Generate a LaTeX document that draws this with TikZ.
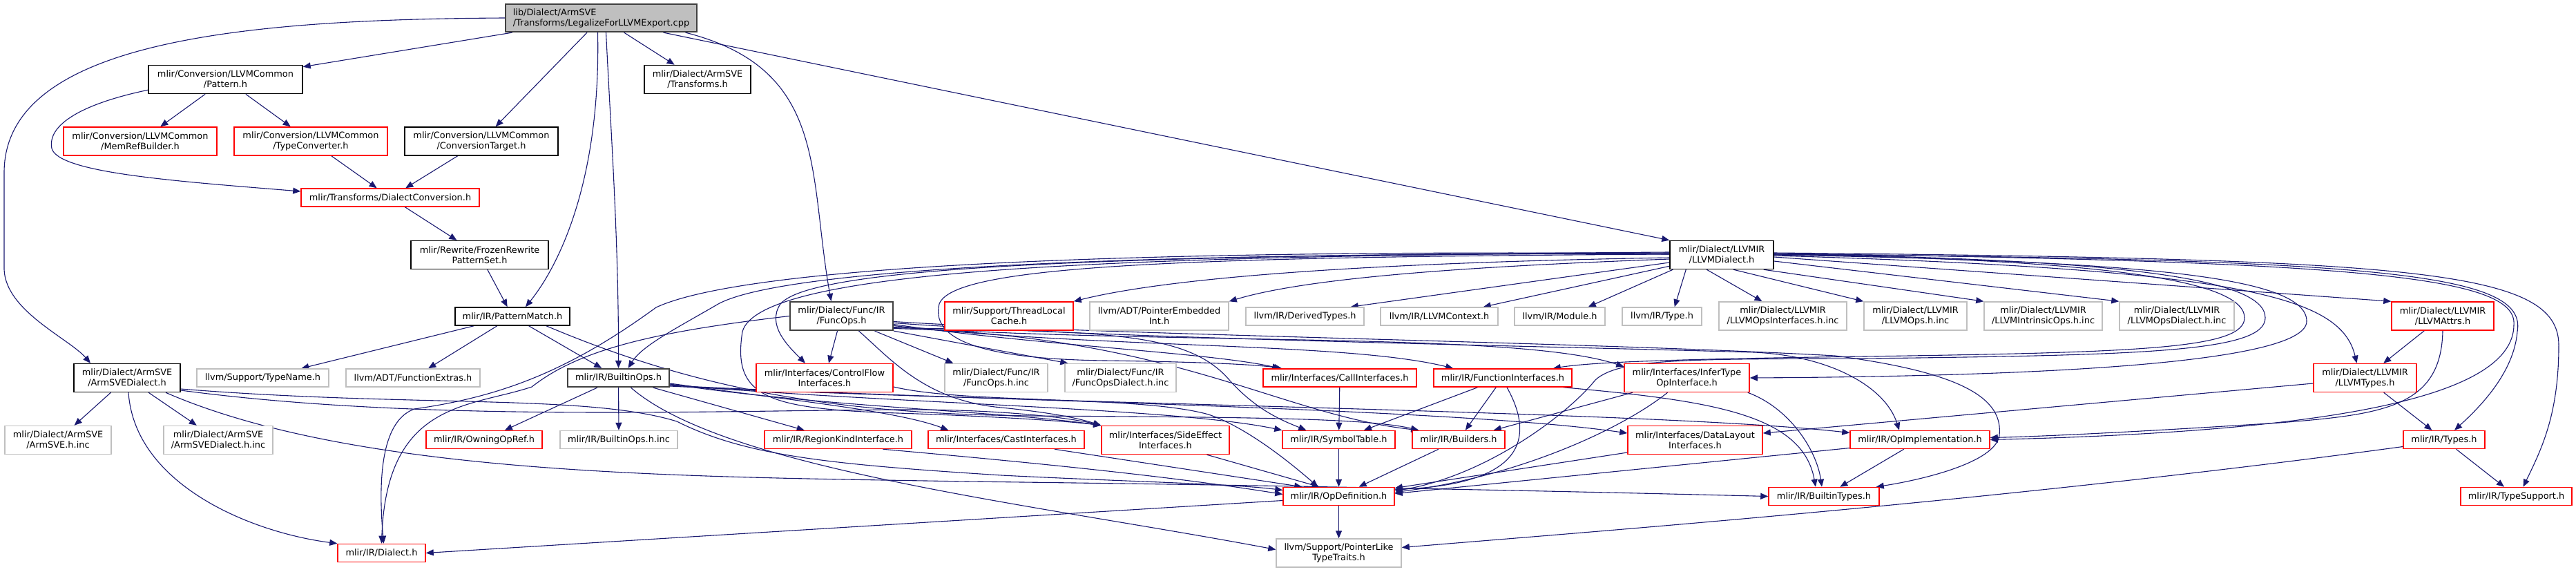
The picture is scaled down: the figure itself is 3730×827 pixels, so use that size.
\documentclass[tikz,border=0pt]{standalone}
\usepackage{fontspec}
\setmainfont{DejaVu Sans}
\usetikzlibrary{calc,arrows.meta,backgrounds}
\definecolor{edgeblue}{RGB}{25,25,112}
\definecolor{boxgray}{RGB}{191,191,191}
\definecolor{rootgray}{RGB}{191,191,191}
\definecolor{borddark}{RGB}{64,64,64}

\begin{document}
\begin{tikzpicture}[x=1pt, y=-1pt,
    hfile/.style={draw=black, fill=white, line width=1.5pt, inner sep=0pt, align=center, font=\fontsize{12.9}{15}\selectfont},
    hred/.style={hfile, draw=red},
    hgray/.style={hfile, draw=boxgray},
    hdark/.style={hfile, draw=borddark, line width=2.2pt},
    hroot/.style={hfile, draw=borddark, fill=rootgray, align=left, line width=2.2pt},
    one/.style={minimum height=26},
    two/.style={minimum height=41},
    dep/.style={draw=edgeblue, line width=1.1pt, -{Triangle[length=11pt,width=9pt]}}]
  \useasboundingbox (0,0) rectangle (3730,827);

  \node (root) at (870.5,26) [hroot, minimum height=40, minimum width=277] {lib/Dialect/ArmSVE\\/Transforms/LegalizeForLLVMExport.cpp};

  \node (pattern) at (326.5,115) [hfile, two, minimum width=223] {mlir/Conversion/LLVMCommon\\/Pattern.h};
  \node (svetrans) at (1010,115) [hfile, two, minimum width=154] {mlir/Dialect/ArmSVE\\/Transforms.h};
  \node (memref) at (203,204.5) [hred, two, minimum width=222] {mlir/Conversion/LLVMCommon\\/MemRefBuilder.h};
  \node (typeconv) at (450,204.5) [hred, two, minimum width=222] {mlir/Conversion/LLVMCommon\\/TypeConverter.h};
  \node (convtarget) at (697,204.5) [hfile, two, minimum width=222] {mlir/Conversion/LLVMCommon\\/ConversionTarget.h};
  \node (dialconv) at (565,286) [hred, one, minimum width=258] {mlir/Transforms/DialectConversion.h};
  \node (frozen) at (694.5,369) [hfile, two, minimum width=199] {mlir/Rewrite/FrozenRewrite\\PatternSet.h};
  \node (llvmd) at (2493,369) [hfile, two, minimum width=150] {mlir/Dialect/LLVMIR\\/LLVMDialect.h};

  \node (patmatch) at (742,458) [hfile, one, minimum width=166] {mlir/IR/PatternMatch.h};
  \node (funcops) at (1218.5,457.5) [hdark, two, minimum width=149] {mlir/Dialect/Func/IR\\/FuncOps.h};
  \node (tlcache) at (1461,457.5) [hred, two, minimum width=186] {mlir/Support/ThreadLocal\\Cache.h};
  \node (ptremb) at (1678.5,457.5) [hgray, two, minimum width=201] {llvm/ADT/PointerEmbedded\\Int.h};
  \node (derived) at (1889.5,458) [hgray, one, minimum width=171] {llvm/IR/DerivedTypes.h};
  \node (llvmctx) at (2084,458) [hgray, one, minimum width=170] {llvm/IR/LLVMContext.h};
  \node (module) at (2258.5,458) [hgray, one, minimum width=131] {llvm/IR/Module.h};
  \node (irtype) at (2406.5,458) [hgray, one, minimum width=115] {llvm/IR/Type.h};
  \node (opsif) at (2581.5,457.5) [hgray, two, minimum width=185] {mlir/Dialect/LLVMIR\\/LLVMOpsInterfaces.h.inc};
  \node (llvmops) at (2773.5,457.5) [hgray, two, minimum width=149] {mlir/Dialect/LLVMIR\\/LLVMOps.h.inc};
  \node (intrinsic) at (2958.5,457.5) [hgray, two, minimum width=171] {mlir/Dialect/LLVMIR\\/LLVMIntrinsicOps.h.inc};
  \node (opsdialect) at (3152,457.5) [hgray, two, minimum width=166] {mlir/Dialect/LLVMIR\\/LLVMOpsDialect.h.inc};
  \node (attrs) at (3537,457.5) [hred, two, minimum width=148] {mlir/Dialect/LLVMIR\\/LLVMAttrs.h};

  \node (armsve) at (184,547) [hfile, two, minimum width=154] {mlir/Dialect/ArmSVE\\/ArmSVEDialect.h};
  \node (typename) at (380.5,547) [hgray, one, minimum width=191] {llvm/Support/TypeName.h};
  \node (funcextras) at (598,547) [hgray, one, minimum width=194] {llvm/ADT/FunctionExtras.h};
  \node (builtinops) at (895.5,547) [hdark, one, minimum width=147] {mlir/IR/BuiltinOps.h};
  \node (ctrlflow) at (1194,547) [hred, two, minimum width=198] {mlir/Interfaces/ControlFlow\\Interfaces.h};
  \node (funcopsinc) at (1442.5,547) [hgray, two, minimum width=149] {mlir/Dialect/Func/IR\\/FuncOps.h.inc};
  \node (funcdialinc) at (1622.5,547) [hgray, two, minimum width=161] {mlir/Dialect/Func/IR\\/FuncOpsDialect.h.inc};
  \node (callif) at (1940,547) [hred, one, minimum width=222] {mlir/Interfaces/CallInterfaces.h};
  \node (funcif) at (2176,547) [hred, one, minimum width=200] {mlir/IR/FunctionInterfaces.h};
  \node (infertype) at (2442.5,547) [hred, two, minimum width=181] {mlir/Interfaces/InferType\\OpInterface.h};
  \node (llvmtypes) at (3424.5,547) [hred, two, minimum width=149] {mlir/Dialect/LLVMIR\\/LLVMTypes.h};

  \node (armsveinc) at (84,637) [hgray, two, minimum width=154] {mlir/Dialect/ArmSVE\\/ArmSVE.h.inc};
  \node (armsvedinc) at (316,637) [hgray, two, minimum width=158] {mlir/Dialect/ArmSVE\\/ArmSVEDialect.h.inc};
  \node (owning) at (701,636.5) [hred, one, minimum width=168] {mlir/IR/OwningOpRef.h};
  \node (builtinopsinc) at (896,636.5) [hgray, one, minimum width=170] {mlir/IR/BuiltinOps.h.inc};
  \node (regionkind) at (1213.5,636.5) [hred, one, minimum width=213] {mlir/IR/RegionKindInterface.h};
  \node (castif) at (1457,636.5) [hred, one, minimum width=226] {mlir/Interfaces/CastInterfaces.h};
  \node (sideeffect) at (1687.5,637) [hred, two, minimum width=185] {mlir/Interfaces/SideEffect\\Interfaces.h};
  \node (symtab) at (1938.5,636.5) [hred, one, minimum width=163] {mlir/IR/SymbolTable.h};
  \node (builders) at (2112,636.5) [hred, one, minimum width=134] {mlir/IR/Builders.h};
  \node (datalayout) at (2454.5,637) [hred, two, minimum width=195] {mlir/Interfaces/DataLayout\\Interfaces.h};
  \node (opimpl) at (2780,636.5) [hred, one, minimum width=202] {mlir/IR/OpImplementation.h};
  \node (types) at (3539,636.5) [hred, one, minimum width=118] {mlir/IR/Types.h};

  \node (opdef) at (1938.5,718.5) [hred, one, minimum width=161] {mlir/IR/OpDefinition.h};
  \node (builtintypes) at (2641,718.5) [hred, one, minimum width=160] {mlir/IR/BuiltinTypes.h};
  \node (typesupport) at (3643.5,718.5) [hred, one, minimum width=161] {mlir/IR/TypeSupport.h};
  \node (dialect) at (552.5,800.5) [hred, one, minimum width=127] {mlir/IR/Dialect.h};
  \node (ptrlike) at (1938.5,800.5) [hgray, two, minimum width=181] {llvm/Support/PointerLike\\TypeTraits.h};

  \begin{scope}[on background layer]
    \draw[dep] (root.west) .. controls (350,28) and (6,60) .. (6,250) -- (6,390) .. controls (8,450) and (100,490) .. ($(armsve.north)+(-53,0)$);
    \draw[dep] (root) -- (pattern);
    \draw[dep] (root) -- (convtarget);
    \draw[dep] ($(root.south)+(-5,0)$) .. controls (870,270) and (805,390) .. ($(patmatch.north)+(19,0)$);
    \draw[dep] ($(root.south)+(7,0)$) .. controls (885,200) and (896,350) .. (builtinops.north);
    \draw[dep] (root) -- (svetrans);
    \draw[dep] ($(root.south)+(122,0)$) .. controls (1200,100) and (1170,250) .. ($(funcops.north)+(-15,0)$);
    \draw[dep] ($(root.south)+(90,0)$) -- (llvmd.north west);

    \draw[dep] (pattern) -- (memref);
    \draw[dep] (pattern) -- (typeconv);
    \draw[dep] ($(pattern.south west)+(0,-6)$) .. controls (120,150) and (68,180) .. (75,215) .. controls (85,250) and (250,262) .. ($(dialconv.west)+(0,-9)$);
    \draw[dep] (typeconv) -- (dialconv);
    \draw[dep] (convtarget) -- (dialconv);
    \draw[dep] (dialconv) -- (frozen);
    \draw[dep] (frozen) -- (patmatch);

    \draw[dep] (patmatch) -- (typename);
    \draw[dep] (patmatch) -- (funcextras);
    \draw[dep] (patmatch) -- (builtinops);
    \draw[dep] ($(patmatch.south)+(49,0)$) .. controls (1000,560) and (1200,600) .. (1500,602) .. controls (1800,604) and (1980,605) .. ($(builders.north west)+(10,0)$);

    \draw[dep] (armsve) -- (armsveinc);
    \draw[dep] (armsve) -- (armsvedinc);
    \draw[dep] ($(armsve.south)+(2,0)$) .. controls (195,700) and (360,770) .. (dialect.north west);
    \draw[dep] ($(armsve.east)+(0,18)$) .. controls (600,610) and (1000,595) .. (1300,593) .. controls (1450,592) and (1550,605) .. (sideeffect.north west);
    \draw[dep] ($(armsve.east)+(0,16)$) .. controls (600,590) and (850,570) .. (980,610) .. controls (1080,660) and (1200,672) .. (1450,688) .. controls (1650,698) and (1780,700) .. ($(opdef.west)+(0,-9)$);
    \draw[dep] ($(armsve.south)+(56,0)$) .. controls (520,690) and (1000,690) .. (1400,697) .. controls (1900,703) and (2300,712) .. (builtintypes.west);

    \draw[dep] (builtinops) -- (owning);
    \draw[dep] (builtinops) -- (builtinopsinc);
    \draw[dep] (builtinops) -- (regionkind);
    \draw[dep] ($(builtinops.south)+(18,0)$) .. controls (1050,680) and (1500,730) .. ($(ptrlike.west)+(0,-5)$);
    \draw[dep] ($(builtinops.east)+(0,8)$) .. controls (1150,580) and (1300,595) .. ($(castif.north west)+(30,0)$);
    \draw[dep] ($(builtinops.east)+(0,9)$) .. controls (1200,590) and (1450,595) .. (sideeffect.north west);
    \draw[dep] ($(builtinops.east)+(0,10)$) .. controls (1300,585) and (1700,590) .. (symtab.north west);
    \draw[dep] ($(builtinops.east)+(0,11)$) .. controls (1400,580) and (2100,590) .. ($(datalayout.west)+(0,-10)$);
    \draw[dep] ($(builtinops.east)+(0,12)$) .. controls (1500,585) and (2400,595) .. ($(opimpl.west)+(0,-10)$);

    \draw[dep] ($(funcops.south)+(-6,0)$) -- ($(ctrlflow.north)+(6,0)$);
    \draw[dep] ($(funcops.south)+(48,0)$) -- ($(funcopsinc.north west)+(13,0)$);
    \draw[dep] (funcops.south east) -- ($(funcdialinc.north west)+(5,0)$);
    \draw[dep] ($(funcops.south)+(25,0)$) .. controls (1290,520) and (1340,580) .. (1450,590) .. controls (1520,597) and (1560,605) .. (sideeffect.north west);
    \draw[dep] (funcops.west) .. controls (950,480) and (840,505) .. (770,560) .. controls (680,590) and (560,580) .. (dialect.north);
    \draw[dep] ($(funcops.east)+(0,12)$) .. controls (1500,500) and (1750,510) .. ($(callif.north west)+(25,0)$);
    \draw[dep] ($(funcops.east)+(0,14)$) .. controls (1600,505) and (1950,495) .. ($(funcif.north west)+(29,0)$);
    \draw[dep] ($(funcops.east)+(0,16)$) .. controls (1700,500) and (2200,480) .. ($(infertype.north west)+(0,5)$);
    \draw[dep] ($(funcops.east)+(0,18)$) .. controls (1700,485) and (1850,600) .. ($(builders.north west)+(10,0)$);
    \draw[dep] ($(funcops.east)+(0,17)$) .. controls (1600,480) and (1720,480) .. (1780,550) .. controls (1820,595) and (1860,610) .. ($(symtab.north west)+(35,0)$);
    \draw[dep] ($(funcops.east)+(0,10)$) .. controls (1600,490) and (2200,500) .. (2540,510) .. controls (2650,515) and (2730,560) .. ($(opimpl.north)+(-30,0)$);
    \draw[dep] ($(funcops.east)+(0,8)$) .. controls (1600,485) and (2300,495) .. (2657,515) .. controls (2850,540) and (2900,580) .. (2895,630) .. controls (2890,670) and (2780,695) .. ($(builtintypes.north east)+(-5,0)$);

    \draw[dep] ($(llvmd.west)+(0,4)$) .. controls (2000,380) and (1700,400) .. (tlcache.north east);
    \draw[dep] ($(llvmd.west)+(0,6)$) .. controls (2150,385) and (1900,400) .. (ptremb.north east);
    \draw[dep] ($(llvmd.west)+(0,11)$) -- ($(derived.north east)+(-20,0)$);
    \draw[dep] ($(llvmd.south west)+(0,-5)$) -- ($(llvmctx.north east)+(-22,0)$);
    \draw[dep] ($(llvmd.south west)+(5,0)$) -- ($(module.north east)+(-25,0)$);
    \draw[dep] ($(llvmd.south west)+(24,0)$) -- ($(irtype.north east)+(-40,0)$);
    \draw[dep] ($(llvmd.south west)+(54,0)$) -- ($(opsif.north)+(-30,0)$);
    \draw[dep] ($(llvmd.south)+(17,0)$) -- (llvmops.north west);
    \draw[dep] ($(llvmd.south east)+(-15,0)$) -- (intrinsic.north west);
    \draw[dep] ($(llvmd.east)+(0,9)$) -- (opsdialect.north west);
    \draw[dep] ($(llvmd.east)+(0,3)$) -- (attrs.north west);
    \draw[dep] ($(llvmd.east)+(0,1)$) .. controls (3250,390) and (3390,430) .. ($(llvmtypes.north)+(-12,0)$);
    \draw[dep] ($(llvmd.east)+(0,-1)$) .. controls (3450,375) and (3660,395) .. (3645,480) .. controls (3640,540) and (3590,590) .. ($(types.north)+(15,0)$);
    \draw[dep] ($(llvmd.east)+(0,-3)$) .. controls (3500,375) and (3705,390) .. (3705,500) .. controls (3705,600) and (3680,650) .. ($(typesupport.north)+(10,0)$);
    \draw[dep] ($(llvmd.east)+(0,-2)$) .. controls (3420,378) and (3645,400) .. (3640,470) .. controls (3640,580) and (3350,625) .. (opimpl.east);
    \draw[dep] ($(llvmd.east)+(0,-1)$) .. controls (3000,375) and (3250,400) .. (3250,460) .. controls (3250,505) and (3100,510) .. (2700,516) .. controls (2400,520) and (2300,525) .. ($(funcif.north east)+(-28,0)$);
    \draw[dep] ($(llvmd.east)+(0,-1.5)$) .. controls (3050,375) and (3280,400) .. (3280,460) .. controls (3280,510) and (3100,514) .. (2700,519) .. controls (2450,520) and (2345,518) .. (2310,550) .. controls (2270,600) and (2150,690) .. ($(opdef.east)+(0,-8)$);
    \draw[dep] (llvmd.east) .. controls (3100,378) and (3340,400) .. (3340,465) .. controls (3340,530) and (2900,545) .. (infertype.east);
    \draw[dep] ($(llvmd.west)+(0,-1)$) .. controls (1800,365) and (1150,380) .. (1040,440) .. controls (980,475) and (930,500) .. ($(builtinops.north)+(14,0)$);
    \draw[dep] ($(llvmd.west)+(0,-2)$) .. controls (1800,362) and (1100,375) .. (950,445) .. controls (820,540) and (720,575) .. (600,592) .. controls (550,610) and (548,700) .. ($(dialect.north)+(3,0)$);
    \draw[dep] ($(llvmd.west)+(0,-4)$) .. controls (1700,370) and (1180,380) .. (1130,440) .. controls (1110,470) and (1140,500) .. ($(ctrlflow.north)+(-28,0)$);
    \draw[dep] ($(llvmd.west)+(0,-3)$) .. controls (1600,370) and (1100,390) .. (1075,480) .. controls (1060,575) and (1110,592) .. (1300,598) .. controls (1450,603) and (1550,610) .. (sideeffect.north west);
    \draw[dep] ($(llvmd.west)+(0,-1)$) .. controls (1700,372) and (1380,385) .. (1360,440) .. controls (1345,500) and (1450,520) .. (1600,522) .. controls (1750,524) and (1820,528) .. ($(callif.north west)+(28,0)$);

    \draw[dep] (callif) -- (symtab);
    \draw[dep] (funcif) -- (symtab);
    \draw[dep] (funcif) -- (builders);
    \draw[dep] ($(funcif.south)+(6,0)$) .. controls (2215,620) and (2225,700) .. ($(opdef.east)+(0,-10)$);
    \draw[dep] ($(funcif.south east)+(-13,0)$) .. controls (2480,580) and (2610,600) .. ($(builtintypes.north)+(-12,0)$);
    \draw[dep] (infertype) -- (builders);
    \draw[dep] ($(infertype.south)+(-28,0)$) .. controls (2350,620) and (2200,690) .. ($(opdef.east)+(0,-6)$);
    \draw[dep] ($(infertype.south east)+(-3,0)$) .. controls (2590,590) and (2630,650) .. ($(builtintypes.north)+(-3,0)$);
    \draw[dep] ($(datalayout.west)+(0,18)$) -- ($(opdef.east)+(0,-12)$);
    \draw[dep] ($(opimpl.west)+(0,12)$) -- ($(opdef.east)+(0,-4)$);
    \draw[dep] (opimpl) -- (builtintypes);
    \draw[dep] ($(regionkind.south)+(65,0)$) .. controls (1500,670) and (1700,690) .. ($(opdef.west)+(0,-3)$);
    \draw[dep] ($(castif.south)+(70,0)$) -- ($(opdef.north west)+(28,0)$);
    \draw[dep] ($(sideeffect.south)+(60,0)$) -- ($(opdef.north)+(-28,0)$);
    \draw[dep] ($(ctrlflow.east)+(0,13)$) .. controls (1400,585) and (1650,572) .. (1750,600) .. controls (1810,620) and (1880,680) .. ($(opdef.north)+(-30,0)$);
    \draw[dep] (symtab) -- (opdef);
    \draw[dep] (builders) -- (opdef);
    \draw[dep] ($(opdef.west)+(0,6)$) -- (dialect.east);
    \draw[dep] (opdef) -- (ptrlike);

    \draw[dep] (attrs) -- (llvmtypes);
    \draw[dep] (attrs.south) .. controls (3535,590) and (3450,600) .. (3300,612) .. controls (3100,625) and (2950,632) .. ($(opimpl.east)+(0,-3)$);
    \draw[dep] (llvmtypes) -- (types);
    \draw[dep] ($(llvmtypes.west)+(0,8)$) -- ($(datalayout.east)+(0,-10)$);
    \draw[dep] (types) -- (typesupport);
    \draw[dep] ($(types.west)+(0,10)$) .. controls (2900,725) and (2300,770) .. ($(ptrlike.east)+(0,-8)$);
  \end{scope}
\end{tikzpicture}
\end{document}
